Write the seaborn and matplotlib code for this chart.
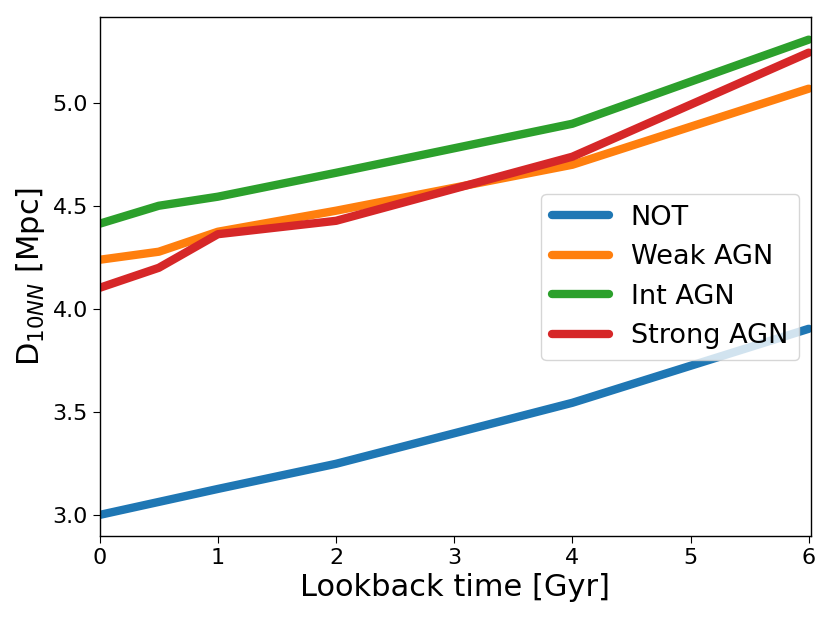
import pandas as pd
import numpy as np
import matplotlib
matplotlib.use("Agg")
import matplotlib.pyplot as plt
import seaborn as sns

# lookback time points
t_gyr = [0, 0.5, 1, 2, 4, 6]
# D10NN for each AGN class
d_not = [3.00, 3.063, 3.126, 3.248, 3.544, 3.903]
d_weak = [4.238, 4.277, 4.374, 4.476, 4.699, 5.068]
d_int = [4.413, 4.500, 4.544, 4.660, 4.898, 5.306]
d_strong = [4.102, 4.199, 4.362, 4.427, 4.738, 5.243]
labels = ["NOT", "Weak AGN", "Int AGN", "Strong AGN"]

df = pd.DataFrame({
    "t": t_gyr * 4,
    "d": d_not + d_weak + d_int + d_strong,
    "cls": np.repeat(labels, len(t_gyr)),
})

sns.set_style("ticks", {"text.color": "black", "axes.labelcolor": "black",
                        "xtick.color": "black", "ytick.color": "black",
                        "axes.edgecolor": "black"})
plt.rcParams["font.family"] = ["DejaVu Sans"]

fig = plt.figure(figsize=(8.31, 6.21), dpi=100)
ax = fig.add_axes([0.120, 0.137, 0.856, 0.836])
sns.lineplot(data=df, x="t", y="d", hue="cls", hue_order=labels,
             palette=["#1f77b4", "#ff7f0e", "#2ca02c", "#d62728"],
             linewidth=6, ax=ax)

ax.set_xlim(0, 6.02)
ax.set_ylim(2.898, 5.417)
ax.set_xticks([0, 1, 2, 3, 4, 5, 6])
ax.set_yticks([3.0, 3.5, 4.0, 4.5, 5.0])
ax.tick_params(labelsize=16, length=5)
ax.set_xlabel("Lookback time [Gyr]", fontsize=22)
ax.set_ylabel(r"D$_{10NN}$ [Mpc]", fontsize=22)
for s in ax.spines.values():
    s.set_linewidth(1.0)

leg = ax.legend(loc="upper right", bbox_to_anchor=(0.983, 0.659), borderaxespad=0,
                fontsize=19.5, handlelength=2.1, frameon=True)
for line in leg.get_lines():
    line.set_linewidth(6)

fig.savefig("out.png", dpi=100)
